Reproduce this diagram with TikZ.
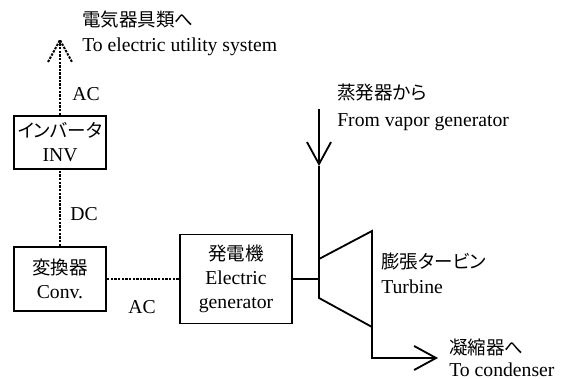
\documentclass[tikz,border=0pt]{standalone}
\usepackage{fontspec}
\setmainfont{Liberation Serif}
\newfontfamily\jp[Scale=0.94,RawFeature=+palt]{Noto Sans CJK JP}
\usetikzlibrary{arrows.meta}

\tikzset{
  unit/.style={draw,line width=1.3pt,align=center,inner sep=0pt},
  wire/.style={line width=1.4pt,dash pattern=on 1.7pt off 0.9pt},
  pipe/.style={line width=1.3pt},
  lbl/.style={anchor=west,inner sep=0pt},
  barb/.style={-{Straight Barb[length=0.55cm,width=0.6cm]}}
}

\begin{document}
\begin{tikzpicture}[x=1cm,y=1cm,font=\fontsize{14}{17}\selectfont]
  \useasboundingbox (0,0) rectangle (14.15,9.475);
  % boxes
  \node[unit,minimum width=2.3cm,minimum height=1.325cm] (inv) at (1.5000,5.9125) {{\jp インバータ}\\INV};
  \node[unit,minimum width=2.3cm,minimum height=1.6cm] (conv) at (1.5000,2.5000) {{\jp 変換器}\\Conv.};
  \node[unit,minimum width=2.8cm,minimum height=2.225cm] (gen) at (5.9000,2.5000) {{\jp 発電機}\\Electric\\generator};
  % turbine
  \coordinate (tin) at (7.9750,3.0000);
  \coordinate (tout) at (9.3000,1.3000);
  \coordinate (tsh) at (7.9750,2.5000);
  \draw[pipe,line join=miter] (tin) -- (9.3000,3.7000) -- (tout) -- (7.9750,2.0250) -- cycle;
  \coordinate (vapin) at (7.9750,6.7500);
  \coordinate (vapmid) at (7.9750,5.3250);
  \coordinate (cond) at (10.9500,0.5250);
  \coordinate (util) at (1.5000,8.4750);
  % lines
  \draw[pipe] (gen.east) -- (tsh);
  \draw[pipe,barb] (vapin) -- (vapmid);
  \draw[pipe] (vapmid) -- (tin);
  \draw[pipe,barb] (tout) |- (cond);
  \draw[wire] (conv.east) -- (gen.west);
  \draw[wire] (conv) -- (inv);
  \draw[wire] (inv.north) -- (util);
  \draw[wire] (util) ++(-0.3,-0.55) -- (util) -- ++(0.3,-0.55);
  % labels
  \node[lbl] (utiljp) at (2.0500,8.9750) {\jp 電気器具類へ};
  \node[lbl] (utilen) at (2.0500,8.3000) {To electric utility system};
  \node (acout) at (2.1500,7.1250) {AC};
  \node (dc) at (2.1000,4.1250) {DC};
  \node (acin) at (3.5500,1.8000) {AC};
  \node[lbl] (vapjp) at (8.4250,7.1500) {\jp 蒸発器から};
  \node[lbl] (vapen) at (8.4250,6.4250) {From vapor generator};
  \node[lbl] (turbjp) at (9.5250,2.9250) {\jp 膨張タービン};
  \node[lbl] (turben) at (9.5250,2.3000) {Turbine};
  \node[lbl] (condjp) at (11.2250,0.8000) {\jp 凝縮器へ};
  \node[lbl] (conden) at (11.2250,0.2250) {To condenser};
\end{tikzpicture}
\end{document}
